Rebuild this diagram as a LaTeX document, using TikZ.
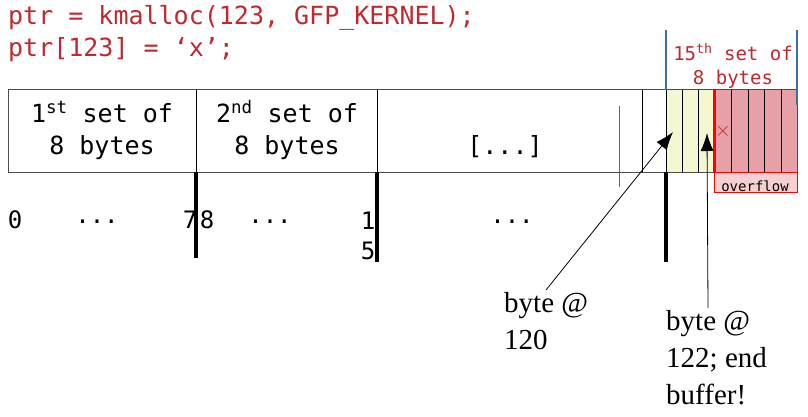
\documentclass[tikz,border=0pt]{standalone}
\usepackage{fontspec}
\setmainfont{Liberation Serif}
\setmonofont{DejaVu Sans Mono}
\usetikzlibrary{arrows.meta}
\definecolor{codered}{RGB}{192,40,46}
\definecolor{cellyel}{RGB}{245,247,210}
\definecolor{cellpink}{RGB}{232,160,168}
\definecolor{lblue}{RGB}{60,110,160}
\begin{document}
\begin{tikzpicture}[x=1pt,y=-1pt,
  cell/.style={draw=black,line width=0.6pt},
  mono/.style={font=\ttfamily\fontsize{25}{32}\selectfont,align=center,inner sep=0pt},
  idx/.style={font=\ttfamily\fontsize{24}{30}\selectfont,inner sep=0pt},
  note/.style={font=\fontsize{29}{37}\selectfont,align=left,anchor=north west,inner sep=0pt},
  thick bar/.style={line width=3.5pt}]
\useasboundingbox (0,0) rectangle (808,417);
% code
\node[mono,codered,anchor=west] (l1) at (8,18) {ptr = kmalloc(123, GFP\_KERNEL);};
\node[mono,codered,anchor=west] (l2) at (8,50) {ptr[123] = ‘x’;};
% cells
\fill[cellyel] (666,90) rectangle (714,172);
\fill[cellpink] (714,90) rectangle (797,172);
\draw[line width=1pt,black!70] (8,90) rectangle (797,172);
\foreach \xx in {196,377,642,666,682,698,731,748,764,781}
  \draw[line width=0.8pt] (\xx,90) -- (\xx,172);
\draw[line width=3pt,red] (714,90) -- (714,172);
\node[font=\fontsize{22}{22}\selectfont,codered] (xm) at (723,131) {$\times$};
% overflow
\fill[cellpink!50] (714,172) rectangle (797,192);
\draw[red,line width=0.8pt] (714,172) rectangle (797,192);
\node[font=\ttfamily\fontsize{14}{16}\selectfont,inner sep=0pt] (ov) at (755,186) {overflow};
% blue markers
\draw[lblue,line width=1.5pt] (666,30) -- (666,90);
\draw[lblue,line width=1.5pt] (797,30) -- (797,105);
\draw[lblue,line width=0.8pt] (619,106) -- (619,187);
% labels
\node[mono] (s1) at (102,130) {1\textsuperscript{st} set of\\8 bytes};
\node[mono] (s2) at (287,130) {2\textsuperscript{nd} set of\\8 bytes};
\node[mono] (dots) at (505,147) {[...]};
\node[font=\ttfamily\fontsize{19}{24}\selectfont,codered,align=center,inner sep=0pt] (s15) at (733,66) {15\textsuperscript{th} set of\\8 bytes};
% index bars
\draw[thick bar] (196,172) -- (196,258);
\draw[thick bar] (377,172) -- (377,262);
\draw[thick bar] (666,172) -- (666,262);
\node[idx] (i0) at (15,220) {0};
\node[idx] (d1) at (97,222) {...};
\node[idx] (i7) at (190,220) {7};
\node[idx] (i8) at (207,220) {8};
\node[idx] (d2) at (270,222) {...};
\node[idx,align=center] (i15) at (368,236) {1\\5};
\node[idx] (d3) at (512,222) {...};
% notes
\node[note] (b120) at (504,292) {byte @\\120};
\node[note] (b122) at (666,310) {byte @\\122; end\\buffer!};
\coordinate (t120) at (673,132);
\coordinate (t122) at (707,133);
\coordinate (f120) at (546,290);
\coordinate (f122) at (708,308);
\draw[-{Latex[length=18pt,width=13pt]},line width=0.8pt] (f120) -- (t120);
\draw[-{Latex[length=18pt,width=13pt]},line width=0.8pt] (f122) -- (t122);
\end{tikzpicture}
\end{document}
